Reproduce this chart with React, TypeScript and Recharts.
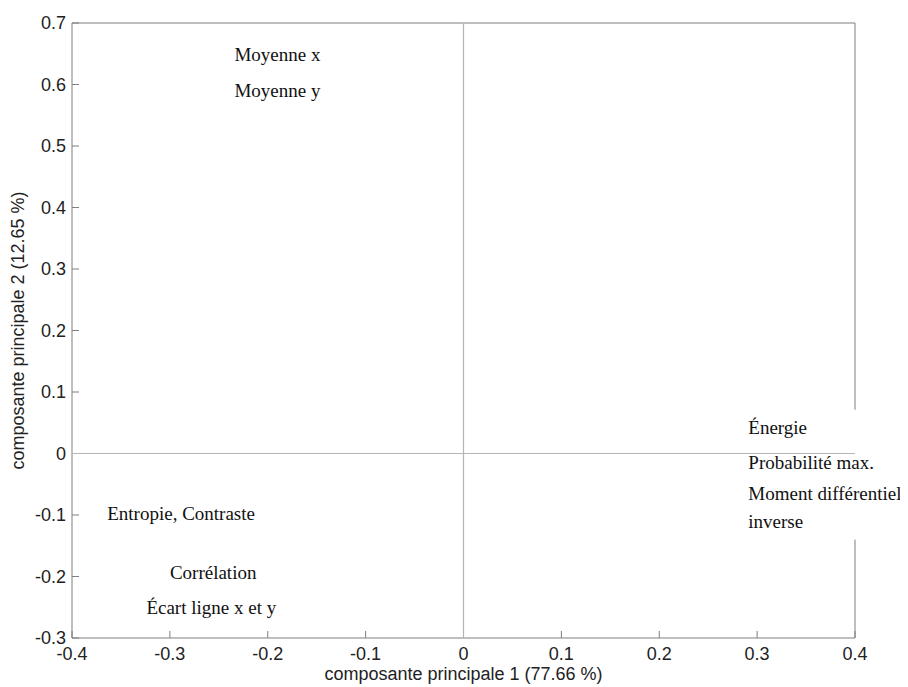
import React from "react";
import { ScatterChart, Scatter, XAxis, YAxis, Label } from "recharts";

const labels = [
  "Moyenne x",
  "Moyenne y",
  "Énergie",
  "Probabilité max.",
  "Moment différentiel\ninverse",
  "Entropie, Contraste",
  "Corrélation",
  "Écart ligne x et y",
];
const pc1 = [-0.234, -0.234, 0.291, 0.291, 0.291, -0.364, -0.3, -0.324];
const pc2 = [0.649, 0.59, 0.042, -0.015, -0.088, -0.098, -0.194, -0.25];

const xTicks = [-0.4, -0.3, -0.2, -0.1, 0, 0.1, 0.2, 0.3, 0.4];
const yTicks = [-0.3, -0.2, -0.1, 0, 0.1, 0.2, 0.3, 0.4, 0.5, 0.6, 0.7];

const xTitle = "composante principale 1 (77.66 %)";
const yTitle = "composante principale 2 (12.65 %)";

const data = labels.map((name, i) => ({ name, x: pc1[i], y: pc2[i] }));
const hZero = [{ x: -0.4, y: 0 }, { x: 0.4, y: 0 }];
const vZero = [{ x: 0, y: -0.3 }, { x: 0, y: 0.7 }];

const AXIS = "#7f7f7f";
const ZERO = "#b5b5b5";
const SANS = "'Liberation Sans', Arial, sans-serif";
const SERIF = "'Liberation Serif', 'Times New Roman', serif";

const LabelShape = (props: any) => {
  const { cx, cy, payload } = props;
  if (cx == null || cy == null) return <g />;
  const lines: string[] = String(payload.name).split("\n");
  const gap = 28;
  const top = cy - ((lines.length - 1) * gap) / 2;
  return (
    <g>
      <rect
        x={cx - 4}
        y={top - 18}
        width={168}
        height={(lines.length - 1) * gap + 36}
        fill="#ffffff"
      />
      {lines.map((l, i) => (
        <text
          key={i}
          x={cx}
          y={top + i * gap}
          dy="0.35em"
          fontFamily={SERIF}
          fontSize={19}
          fill="#111"
        >
          {l}
        </text>
      ))}
    </g>
  );
};

const NoShape = () => <g />;

export default function App() {
  const tickStyle = { fontSize: 18, fontFamily: SANS, fill: "#222" };
  return (
    <div style={{ width: 900, height: 679, background: "#fff" }}>
      <ScatterChart
        width={900}
        height={679}
        margin={{ top: 14, right: 52, bottom: 0, left: 0 }}
      >
        <XAxis
          xAxisId="b"
          dataKey="x"
          type="number"
          domain={[-0.4, 0.4]}
          ticks={xTicks}
          interval={0}
          height={49}
          stroke={AXIS}
          tickSize={-7}
          tickMargin={16}
          tick={tickStyle}
        >
          <Label
            value={xTitle}
            position="insideBottom"
            offset={7}
            style={{ fontSize: 18, fontFamily: SANS, fill: "#222" }}
          />
        </XAxis>
        <XAxis
          xAxisId="t"
          orientation="top"
          type="number"
          domain={[-0.4, 0.4]}
          ticks={xTicks}
          interval={0}
          height={1}
          stroke={AXIS}
          tickSize={-7}
          tickFormatter={() => ""}
        />
        <YAxis
          yAxisId="l"
          dataKey="y"
          type="number"
          domain={[-0.3, 0.7]}
          ticks={yTicks}
          interval={0}
          width={64}
          stroke={AXIS}
          tickSize={-7}
          tickMargin={13}
          tick={tickStyle}
        >
          <Label
            value={yTitle}
            angle={-90}
            position="insideLeft"
            offset={10}
            style={{ fontSize: 18, fontFamily: SANS, fill: "#222", textAnchor: "middle" }}
          />
        </YAxis>
        <YAxis
          yAxisId="r"
          orientation="right"
          type="number"
          domain={[-0.3, 0.7]}
          ticks={yTicks}
          interval={0}
          width={1}
          stroke={AXIS}
          tickSize={-7}
          tickFormatter={() => ""}
        />
        <Scatter
          data={vZero}
          xAxisId="b"
          yAxisId="l"
          line={{ stroke: ZERO, strokeWidth: 1.2 }}
          shape={NoShape}
          legendType="none"
          isAnimationActive={false}
        />
        <Scatter
          data={data}
          xAxisId="b"
          yAxisId="l"
          shape={LabelShape}
          isAnimationActive={false}
        />
        <Scatter
          data={hZero}
          xAxisId="b"
          yAxisId="l"
          line={{ stroke: ZERO, strokeWidth: 1.2 }}
          shape={NoShape}
          legendType="none"
          isAnimationActive={false}
        />
      </ScatterChart>
    </div>
  );
}
